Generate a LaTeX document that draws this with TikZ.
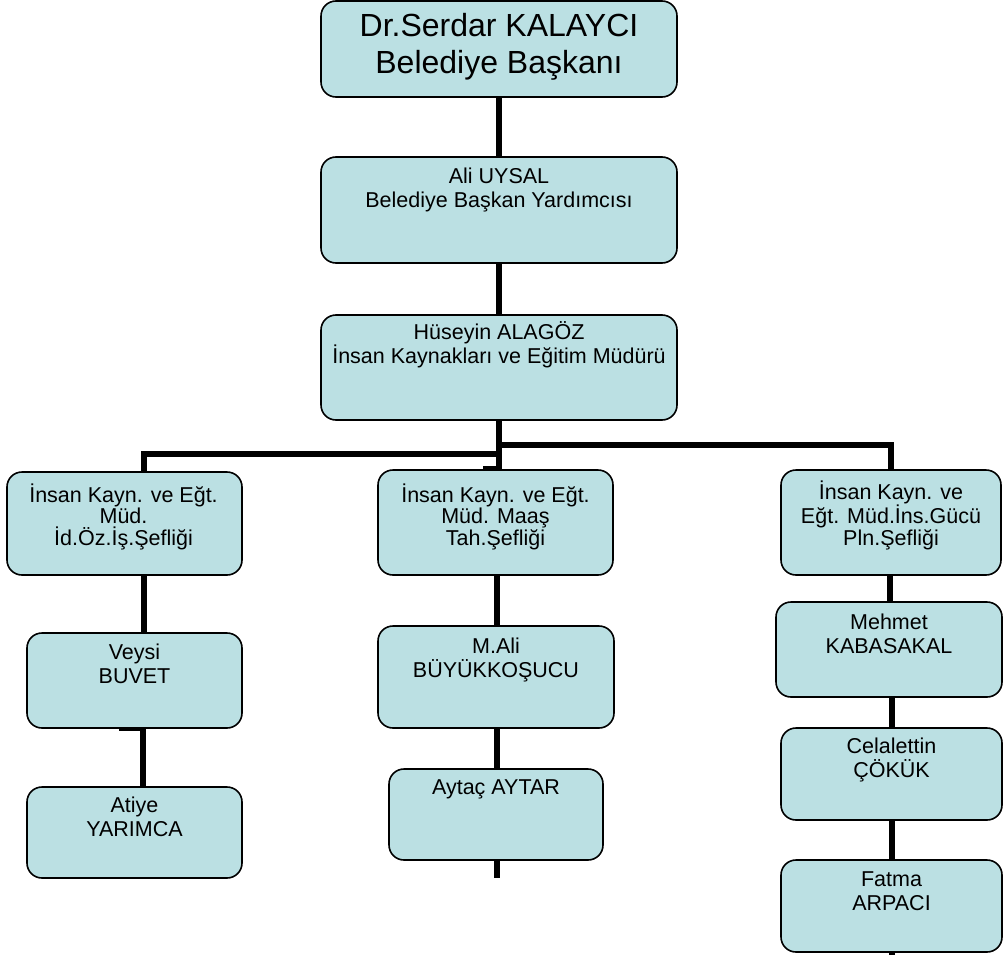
\documentclass[tikz,border=0pt]{standalone}
\usepackage{fontspec}
\setmainfont{Liberation Sans}
\usetikzlibrary{backgrounds}
\definecolor{boxfill}{RGB}{187,224,227}
\begin{document}
\begin{tikzpicture}[x=1pt,y=-1pt,
  box/.style={draw=black,line width=1.6pt,fill=boxfill,rounded corners=15pt,inner sep=0pt,outer sep=0pt},
  txt/.style={align=center,inner sep=0pt,anchor=base,font=\fontsize{21.5}{24}\selectfont},
  midtxt/.style={align=center,inner sep=0pt,anchor=base,font=\fontsize{21.5}{21.5}\selectfont},
  bigtxt/.style={align=center,inner sep=0pt,anchor=base,font=\fontsize{32}{37}\selectfont},
  conn/.style={line width=6pt,draw=black},
  stub/.style={line width=3pt,draw=black}]
\useasboundingbox (0,0) rectangle (1003,955);
% boxes
\node[box,minimum width=356pt,minimum height=96pt] (top) at (499,49) {};
\node[box,minimum width=356pt,minimum height=106pt] (b2) at (499,210) {};
\node[box,minimum width=356pt,minimum height=105pt] (b3) at (499,367.5) {};
\node[box,minimum width=235pt,minimum height=103pt] (L1) at (124.5,523.5) {};
\node[box,minimum width=235pt,minimum height=105pt] (M1) at (495.5,522.5) {};
\node[box,minimum width=220pt,minimum height=105pt] (R1) at (891,522.5) {};
\node[box,minimum width=215pt,minimum height=95pt] (L2) at (134.5,680.5) {};
\node[box,minimum width=215pt,minimum height=91pt] (L3) at (134.5,832.5) {};
\node[box,minimum width=236pt,minimum height=102pt] (M2) at (496,677) {};
\node[box,minimum width=214pt,minimum height=91pt] (M3) at (496,814.5) {};
\node[box,minimum width=226pt,minimum height=95pt] (R2) at (889,649.5) {};
\node[box,minimum width=221pt,minimum height=92pt] (R3) at (891.5,774) {};
\node[box,minimum width=221pt,minimum height=92pt] (R4) at (891.5,906) {};
% texts (anchor base = baseline of last line)
\node[bigtxt] (topt) at ([yshift=-73pt]top.north) {Dr.Serdar KALAYCI\\Belediye Başkanı};
\node[txt] (b2t) at ([yshift=-50pt]b2.north) {Ali UYSAL\\Belediye Başkan Yardımcısı};
\node[txt] (b3t) at ([yshift=-48pt]b3.north) {Hüseyin ALAGÖZ\\İnsan Kaynakları ve Eğitim Müdürü};
\node[midtxt] (L1t) at ([xshift=-1pt,yshift=-73pt]L1.north) {İnsan Kayn. ve Eğt.\\Müd.\\İd.Öz.İş.Şefliği};
\node[midtxt] (M1t) at ([yshift=-75pt]M1.north) {İnsan Kayn. ve Eğt.\\Müd. Maaş\\Tah.Şefliği};
\node[midtxt] (R1t) at ([yshift=-75pt]R1.north) {İnsan Kayn. ve\\Eğt. Müd.İns.Gücü\\Pln.Şefliği};
\node[txt] (L2t) at ([yshift=-50pt]L2.north) {Veysi\\BUVET};
\node[txt] (L3t) at ([yshift=-49pt]L3.north) {Atiye\\YARIMCA};
\node[txt] (M2t) at ([yshift=-51pt]M2.north) {M.Ali\\BÜYÜKKOŞUCU};
\node[txt] (M3t) at ([yshift=-25pt]M3.north) {Aytaç AYTAR};
\node[txt] (R2t) at ([yshift=-51pt]R2.north) {Mehmet\\KABASAKAL};
\node[txt] (R3t) at ([yshift=-49pt]R3.north) {Celalettin\\ÇÖKÜK};
\node[txt] (R4t) at ([yshift=-50pt]R4.north) {Fatma\\ARPACI};
% connector points
\coordinate (jR) at (499,445);
\coordinate (jL) at (499,454);
\coordinate (kL) at (144,454);
\coordinate (xL) at (143,0);
\coordinate (sL) at (119,729.5);
\coordinate (sM) at (483,467);
\coordinate (xM) at (497,0);
\coordinate (mEnd) at (497,878);
\coordinate (xR) at (890,0);
\coordinate (yR) at (892,0);
\coordinate (rEnd) at (892,955);
\begin{pgfonlayer}{background}
\draw[conn] (top.south) -- (b2.north);
\draw[conn] (b2.south) -- (b3.north);
\draw[conn] (b3.south) -- (jR) -| (R1.north);
\draw[conn] (b3.south) -- (b3.south |- M1.north);
\draw[conn] (jL) -- (kL) -- (kL |- L1.north);
\draw[stub] (sM) -- (sM -| b3.south);
\draw[conn] (kL |- L1.south) -- (kL |- L2.north);
\draw[conn] (xL |- L2.south) -- (xL |- L3.north);
\draw[stub] (sL) -- (sL -| xL);
\draw[conn] (xM |- M1.south) -- (xM |- M2.north);
\draw[conn] (xM |- M2.south) -- (xM |- M3.north);
\draw[conn] (xM |- M3.south) -- (mEnd);
\draw[conn] (xR |- R1.south) -- (xR |- R2.north);
\draw[conn] (yR |- R2.south) -- (yR |- R3.north);
\draw[conn] (yR |- R3.south) -- (yR |- R4.north);
\draw[conn] (yR |- R4.south) -- (rEnd);
\end{pgfonlayer}
\end{tikzpicture}
\end{document}
